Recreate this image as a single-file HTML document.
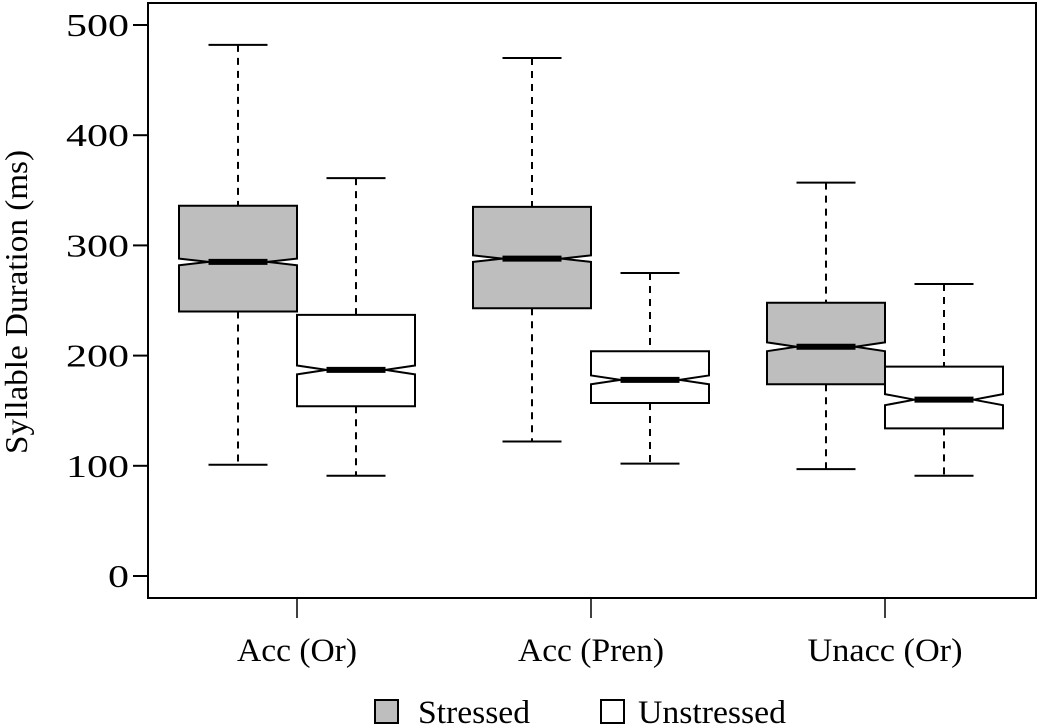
<!DOCTYPE html>
<html><head><meta charset="utf-8"><style>
html,body{margin:0;padding:0;background:#fff}
svg{display:block;font-family:"Liberation Serif",serif}
</style></head><body>
<svg id="chart" width="1040" height="727">
<rect x="148" y="3" width="888" height="595" fill="none" stroke="#000" stroke-width="2"/>
<g id="yaxis"></g>
<g id="xaxis"></g>
<g id="boxes"></g>
<text transform="translate(27,302) rotate(-90)" text-anchor="middle" font-size="32" textLength="304" lengthAdjust="spacingAndGlyphs">Syllable Duration (ms)</text>
<g>
<rect x="375" y="700" width="23" height="23" fill="#bebebe" stroke="#000" stroke-width="2"/>
<text x="418" y="723" font-size="33" textLength="112" lengthAdjust="spacingAndGlyphs">Stressed</text>
<rect x="601" y="700" width="23" height="23" fill="#fff" stroke="#000" stroke-width="2"/>
<text x="638" y="723" font-size="33" textLength="148" lengthAdjust="spacingAndGlyphs">Unstressed</text>
</g>
</svg>
<script>
const categories = ["Acc (Or)", "Acc (Pren)", "Unacc (Or)"];
const yTicks = [0, 100, 200, 300, 400, 500];
const stressedLow = [101, 122, 97];
const stressedQ1 = [240, 243, 174];
const stressedMed = [285, 288, 208];
const stressedQ3 = [336, 335, 248];
const stressedHigh = [482, 470, 357];
const stressedNotch = [3, 3, 4];
const unstressedLow = [91, 102, 91];
const unstressedQ1 = [154, 157, 134];
const unstressedMed = [187, 178, 160];
const unstressedQ3 = [237, 204, 190];
const unstressedHigh = [361, 275, 265];
const unstressedNotch = [4, 4, 5];

const NS = "http://www.w3.org/2000/svg";
function y(v){ return 576 - v * 1.102; }
function gx(i){ return 297 + i * 294; }
function mk(parent, tag, attrs){
  const e = document.createElementNS(NS, tag);
  for (const k in attrs) e.setAttribute(k, attrs[k]);
  parent.appendChild(e);
  return e;
}
const ya = document.getElementById('yaxis');
yTicks.forEach(t => {
  const l = mk(ya, 'line', {x1:133, x2:148, y1:y(t), y2:y(t), stroke:'#000', 'stroke-width':2});
  
  
  const s = String(t);
  const tx = mk(ya, 'text', {x:129, y:y(t)+11, 'text-anchor':'end', 'font-size':32, textLength:s.length*21, lengthAdjust:'spacingAndGlyphs'});
  tx.textContent = s;
  
  
});
const xa = document.getElementById('xaxis');
const labelW = [120, 146, 155];
categories.forEach((c, i) => {
  const l = mk(xa, 'line', {x1:gx(i), x2:gx(i), y1:598, y2:618, stroke:'#000', 'stroke-width':1.5});
  
  
  const tx = mk(xa, 'text', {x:gx(i), y:661, 'text-anchor':'middle', 'font-size':33, textLength:labelW[i], lengthAdjust:'spacingAndGlyphs'});
  tx.textContent = c;
  
  
});
const bg = document.getElementById('boxes');
function drawBox(cx, lo, q1, med, q3, hi, n, fill, name){
  const g = mk(bg, 'g', {});
  
  
  const w = 59, iw = 29.5, cw = 29.5;
  mk(g, 'line', {x1:cx, x2:cx, y1:y(hi), y2:y(q3), stroke:'#000', 'stroke-width':2, 'stroke-dasharray':'7,6'});
  mk(g, 'line', {x1:cx, x2:cx, y1:y(q1), y2:y(lo), stroke:'#000', 'stroke-width':2, 'stroke-dasharray':'7,6'});
  mk(g, 'line', {x1:cx-cw, x2:cx+cw, y1:y(hi), y2:y(hi), stroke:'#000', 'stroke-width':2});
  mk(g, 'line', {x1:cx-cw, x2:cx+cw, y1:y(lo), y2:y(lo), stroke:'#000', 'stroke-width':2});
  const pts = [
    [cx-w, y(q3)], [cx+w, y(q3)], [cx+w, y(med+n)], [cx+iw, y(med)], [cx+w, y(med-n)],
    [cx+w, y(q1)], [cx-w, y(q1)], [cx-w, y(med-n)], [cx-iw, y(med)], [cx-w, y(med+n)]
  ].map(p => p.join(',')).join(' ');
  mk(g, 'polygon', {points:pts, fill:fill, stroke:'#000', 'stroke-width':2});
  mk(g, 'line', {x1:cx-iw, x2:cx+iw, y1:y(med), y2:y(med), stroke:'#000', 'stroke-width':6});
}
categories.forEach((c, i) => {
  drawBox(gx(i)-59, stressedLow[i], stressedQ1[i], stressedMed[i], stressedQ3[i], stressedHigh[i], stressedNotch[i], '#bebebe', 'box-stressed');
  drawBox(gx(i)+59, unstressedLow[i], unstressedQ1[i], unstressedMed[i], unstressedQ3[i], unstressedHigh[i], unstressedNotch[i], '#fff', 'box-unstressed');
});
</script>
</body></html>
